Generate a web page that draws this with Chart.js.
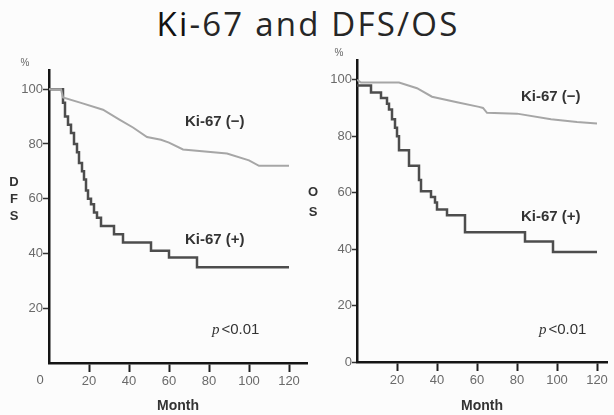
<!DOCTYPE html>
<html>
<head>
<meta charset="utf-8">
<script src="https://cdn.jsdelivr.net/npm/chart.js@4/dist/chart.umd.min.js"></script>
<style>
  html, body { margin: 0; padding: 0; background: #fcfcfc; }
  #wrap { position: relative; width: 614px; height: 415px; overflow: hidden; }
  #title { position: absolute; left: 1px; top: 7px; width: 614px; text-align: center;
           font-family: "Open Sans", sans-serif; font-size: 33px; line-height: 33px;
           letter-spacing: 2.2px; color: #262626; }
  #title span { color: #111; }
  canvas { position: absolute; top: 0; }
</style>
</head>
<body>
<div id="wrap">
  <div id="title"><span>Ki</span>-67 and DFS/OS</div>
  <canvas id="dfs-canvas" width="310" height="415" style="left:0"></canvas>
  <canvas id="os-canvas" width="314" height="415" style="left:300px"></canvas>
</div>
<script>
'use strict';

// tick labels
var monthTicks = [20, 40, 60, 80, 100, 120];
var dfsTicks = [20, 40, 60, 80, 100];
var osTicks = [0, 20, 40, 60, 80, 100];
var groupNames = ['Ki-67 (−)', 'Ki-67 (+)'];

// DFS, Ki-67 negative (grey)
var dfsNegMonths = [0, 6, 7, 16, 27, 35, 42, 49, 56, 60, 67, 89, 100, 105, 120];
var dfsNegValues = [100, 100, 97, 95, 92.5, 89, 86, 82.5, 81.5, 80.5, 78, 76.5, 74, 72, 72];

// DFS, Ki-67 positive (dark, step curve)
var dfsPosMonths = [0, 6.5, 7, 8, 9.5, 11, 12.5, 14, 15, 16.5, 17.5, 18.5, 19.5, 21, 22.5, 24, 26, 32.5, 37, 51, 60, 74, 120];
var dfsPosValues = [100, 100, 95, 90, 87, 84, 80, 77, 73, 70, 67, 63, 60, 58, 55, 53, 50, 47, 44, 41, 38.5, 35, 35];

// OS, Ki-67 negative (grey)
var osNegMonths = [0, 2, 21, 30, 37.5, 50, 61, 63, 65, 80, 97, 110, 120];
var osNegValues = [100, 99, 99, 97, 94, 92, 90.4, 90, 88.3, 88, 86, 85, 84.5];

// OS, Ki-67 positive (dark, step curve)
var osPosMonths = [0, 7, 12, 15, 16, 17.5, 19, 20, 21, 26, 31, 32, 37, 39, 40, 45, 54, 84, 98, 120];
var osPosValues = [98, 95.5, 93.5, 91.5, 89.5, 86, 83, 80, 75, 69.5, 64.5, 60.5, 58.5, 56.5, 54, 52, 46, 42.7, 39, 39];

function toPoints(months, values) {
  return months.map(function(m, i) { return {x: m, y: values[i]}; });
}

// text drawn on top of the plot: curve names, p value, stacked axis letters
var annotate = {
  id: 'annotate',
  afterDraw: function(chart, args, opts) {
    var ctx = chart.ctx, xs = chart.scales.x, ys = chart.scales.y, area = chart.chartArea;
    ctx.save();
    ctx.textBaseline = 'middle';
    ctx.fillStyle = '#333';
    ctx.font = 'bold 15px "Liberation Sans", Arial, sans-serif';
    ctx.textAlign = 'left';
    opts.names.forEach(function(n) {
      ctx.fillText(n.text, xs.getPixelForValue(n.month), ys.getPixelForValue(n.value));
    });
    // p value
    var px = xs.getPixelForValue(opts.p.month), py = ys.getPixelForValue(opts.p.value);
    ctx.font = 'italic 15px "Liberation Serif", serif';
    ctx.fillText('p', px, py);
    var pw = ctx.measureText('p').width + 2;
    ctx.font = '15px "Liberation Sans", Arial, sans-serif';
    ctx.fillText('<0.01', px + pw, py);
    // vertical axis name, one letter per line
    ctx.textAlign = 'center';
    ctx.font = 'bold 13px "Liberation Sans", Arial, sans-serif';
    var y60 = ys.getPixelForValue(60);
    opts.letters.forEach(function(ch, i) {
      ctx.fillText(ch, area.left + opts.lettersDx, y60 + opts.lettersDy + i * opts.lettersGap);
    });
    // % unit
    ctx.fillStyle = '#666';
    ctx.font = '10px "Liberation Sans", Arial, sans-serif';
    ctx.fillText('%', area.left + opts.unitDx, area.top - 7);
    if (opts.cornerZero) {
      ctx.font = '13px "Liberation Sans", Arial, sans-serif';
      ctx.fillText('0', area.left - 9, area.bottom + 17);
    }
    ctx.restore();
  }
};

function makeConfig(neg, pos, yTicks, p) {
  return {
    type: 'line',
    data: {
      datasets: [
        {
          label: groupNames[0],
          data: neg,
          borderColor: '#a6a6a6',
          borderWidth: 2,
          pointRadius: 0,
          tension: 0,
        },
        {
          label: groupNames[1],
          data: pos,
          borderColor: '#4d4d4d',
          borderWidth: 2.5,
          pointRadius: 0,
          stepped: true,
        },
      ]
    },
    options: {
      responsive: false,
      animation: false,
      layout: { padding: p.padding },
      plugins: {
        legend: { display: false },
        tooltip: { enabled: false },
        annotate: p.annotate,
      },
      scales: {
        x: {
          type: 'linear',
          min: 0,
          max: p.xMax,
          afterBuildTicks: function(scale) {
            scale.ticks = monthTicks.map(function(v) { return {value: v}; });
          },
          afterFit: function(scale) { scale.height = p.xHeight; },
          border: { display: true, color: '#151515', width: 2.5 },
          grid: { drawOnChartArea: false, drawTicks: true, tickLength: 9, tickColor: '#1e1e1e', tickWidth: 2 },
          ticks: { color: '#6a6a6a', padding: 2, maxRotation: 0,
                   font: { family: '"Liberation Sans", Arial, sans-serif', size: 13 } },
          title: { display: true, text: 'Month', color: '#333', padding: 0,
                   font: { family: '"Liberation Sans", Arial, sans-serif', size: 14, weight: 'bold' } },
        },
        y: {
          min: 0,
          max: 107,
          afterBuildTicks: function(scale) {
            scale.ticks = yTicks.map(function(v) { return {value: v}; });
          },
          afterFit: function(scale) { scale.width = p.yWidth; },
          border: { display: true, color: '#151515', width: 2.5 },
          grid: { drawOnChartArea: false, drawTicks: true, tickLength: p.yTickLen, tickColor: '#333', tickWidth: 1.5 },
          ticks: { color: '#6a6a6a', padding: 0,
                   font: { family: '"Liberation Sans", Arial, sans-serif', size: 13 } },
        },
      },
    },
    plugins: [annotate],
  };
}

var dfsConfig = makeConfig(toPoints(dfsNegMonths, dfsNegValues), toPoints(dfsPosMonths, dfsPosValues), dfsTicks, {
  padding: { top: 70, right: 3, left: 0, bottom: 0 },
  xMax: 129, xHeight: 52, yWidth: 49, yTickLen: 6,
  annotate: {
    names: [ {text: groupNames[0], month: 68, value: 88}, {text: groupNames[1], month: 68, value: 45} ],
    p: { month: 81.5, value: 12 },
    letters: ['D', 'F', 'S'], lettersDx: -35, lettersDy: -16, lettersGap: 17,
    unitDx: -24, cornerZero: true,
  },
});

var osConfig = makeConfig(toPoints(osNegMonths, osNegValues), toPoints(osPosMonths, osPosValues), osTicks, {
  padding: { top: 60, right: 7, left: 0, bottom: 0 },
  xMax: 125, xHeight: 53, yWidth: 57, yTickLen: 5,
  annotate: {
    names: [ {text: groupNames[0], month: 82, value: 94}, {text: groupNames[1], month: 82, value: 51.4} ],
    p: { month: 91, value: 11.3 },
    letters: ['O', 'S'], lettersDx: -44, lettersDy: 0, lettersGap: 20,
    unitDx: -18, cornerZero: false,
  },
});

window.dfsChart = new Chart(document.getElementById('dfs-canvas'), dfsConfig);
window.osChart = new Chart(document.getElementById('os-canvas'), osConfig);
</script>
</body>
</html>
